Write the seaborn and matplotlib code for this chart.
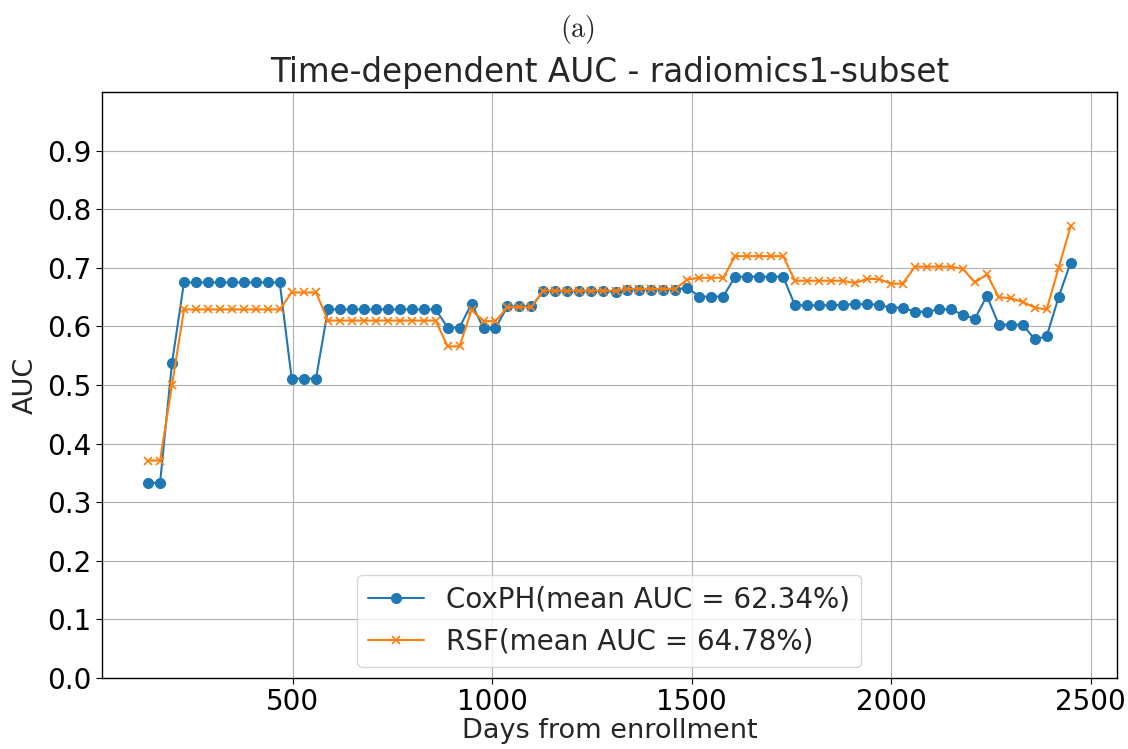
import numpy as np
import pandas as pd
import matplotlib
matplotlib.use("Agg")
import matplotlib.pyplot as plt
import seaborn as sns

days = [137, 167, 197, 227, 257, 287, 317, 347, 377, 407, 437, 467, 497, 528, 558,
        588, 618, 648, 678, 708, 738, 768, 798, 828, 858, 888, 918, 948, 978, 1008,
        1038, 1068, 1098, 1128, 1158, 1188, 1218, 1248, 1278, 1309, 1339, 1369, 1399,
        1429, 1459, 1489, 1519, 1549, 1579, 1609, 1639, 1669, 1699, 1729, 1759, 1789,
        1819, 1849, 1879, 1909, 1939, 1969, 1999, 2029, 2060, 2090, 2120, 2150, 2180,
        2210, 2240, 2270, 2300, 2330, 2360, 2390, 2420, 2450]

coxph_auc = [0.333, 0.333, 0.538,
             0.675, 0.675, 0.675, 0.675, 0.675, 0.675, 0.675, 0.675, 0.675,
             0.511, 0.511, 0.511,
             0.629, 0.629, 0.629, 0.629, 0.629, 0.629, 0.629, 0.629, 0.629, 0.629,
             0.598, 0.598, 0.639, 0.597, 0.597, 0.634, 0.634, 0.634,
             0.660, 0.660, 0.660, 0.660, 0.660, 0.660, 0.659, 0.663, 0.663, 0.663,
             0.663, 0.663, 0.666,
             0.651, 0.651, 0.651,
             0.685, 0.685, 0.685, 0.685, 0.685,
             0.636, 0.636, 0.636, 0.636, 0.637, 0.638, 0.638, 0.637,
             0.632, 0.632, 0.625, 0.625, 0.629, 0.629, 0.620, 0.613, 0.652,
             0.603, 0.603, 0.603, 0.578, 0.583, 0.650, 0.709]

rsf_auc = [0.371, 0.371, 0.500,
           0.629, 0.629, 0.629, 0.629, 0.629, 0.629, 0.629, 0.629, 0.629,
           0.658, 0.658, 0.658,
           0.610, 0.610, 0.610, 0.610, 0.610, 0.610, 0.610, 0.610, 0.610, 0.610,
           0.566, 0.566, 0.628, 0.609, 0.609, 0.633, 0.633, 0.633,
           0.661, 0.661, 0.661, 0.661, 0.661, 0.661, 0.661, 0.664, 0.664, 0.664,
           0.664, 0.664, 0.680,
           0.683, 0.683, 0.683,
           0.720, 0.720, 0.720, 0.720, 0.720,
           0.678, 0.678, 0.678, 0.678, 0.678, 0.674, 0.681, 0.681,
           0.673, 0.673, 0.702, 0.702, 0.702, 0.702, 0.698, 0.675, 0.689,
           0.650, 0.648, 0.642, 0.632, 0.629, 0.700, 0.771]

series_labels = ["CoxPH(mean AUC = 62.34%)", "RSF(mean AUC = 64.78%)"]
title = "Time-dependent AUC - radiomics1-subset"
panel_label = r"$\mathrm{(a)}$"
yticks = [0.0, 0.1, 0.2, 0.3, 0.4, 0.5, 0.6, 0.7, 0.8, 0.9]
xticks = [500, 1000, 1500, 2000, 2500]

sns.set_style("ticks")
plt.rcParams["font.family"] = ["DejaVu Sans"]
plt.rcParams["mathtext.fontset"] = "cm"

fig = plt.figure(figsize=(11.28, 7.49), dpi=100)
ax = fig.add_axes([0.0904, 0.095, 0.8996, 0.782])

blue = "#1f77b4"
orange = "#ff7f0e"
sns.lineplot(x=days, y=coxph_auc, ax=ax, color=blue, marker="o", markersize=7,
             markeredgecolor=blue, markeredgewidth=1.0, linewidth=1.5,
             label=series_labels[0])
sns.lineplot(x=days, y=rsf_auc, ax=ax, color=orange, marker="x", markersize=6,
             markeredgecolor=orange, markeredgewidth=1.2, linewidth=1.5,
             label=series_labels[1])

ax.set_ylim(0, 1.0)
ax.set_yticks(yticks)
ax.set_xticks(xticks)
ax.grid(True, color="#b0b0b0", linewidth=0.8)
for s in ax.spines.values():
    s.set_color("black")
    s.set_linewidth(1.0)
ax.tick_params(axis="both", labelsize=20, length=4, width=0.8, colors="black")
ax.set_xlabel("Days from enrollment", fontsize=19.5, labelpad=1)
ax.set_ylabel("AUC", fontsize=19.5, labelpad=6)
ax.set_title(title, fontsize=23.5, pad=7)
fig.text(0.512, 0.96, panel_label, ha="center", va="center", fontsize=20)
ax.legend(loc="lower center", fontsize=20, framealpha=0.8, edgecolor="#cccccc",
          fancybox=True, borderaxespad=0.4, handlelength=2.0)

fig.savefig("out.png", dpi=100)
